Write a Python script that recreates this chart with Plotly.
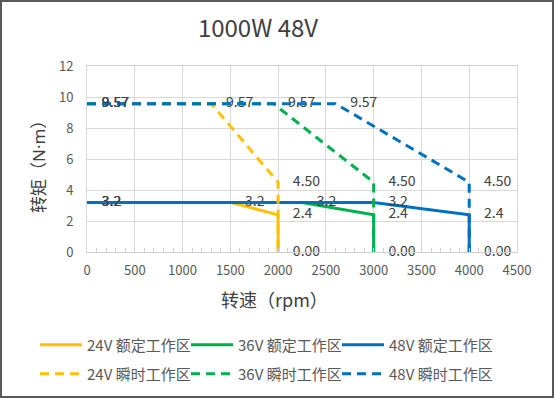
import plotly.graph_objects as go

# ---- data ----
rated_labels = ["24V 额定工作区", "36V 额定工作区", "48V 额定工作区"]
peak_labels = ["24V 瞬时工作区", "36V 瞬时工作区", "48V 瞬时工作区"]

rated_x_24 = [0, 1500, 2000, 2000]
rated_x_36 = [0, 2250, 3000, 3000]
rated_x_48 = [0, 3000, 4000, 4000]
rated_y = [3.2, 3.2, 2.4, 0]
rated_text = ["3.2", "3.2", "2.4", ""]

peak_x_24 = [0, 1300, 2000, 2000]
peak_x_36 = [0, 1950, 3000, 3000]
peak_x_48 = [0, 2600, 4000, 4000]
peak_y = [9.57, 9.57, 4.5, 0]
peak_text = ["9.57", "9.57", "4.50", "0.00"]

colors = ["#FFC000", "#00B050", "#0070C0"]

FONT = "Noto Sans CJK SC"
W, H = 554, 398
L, R, T, B = 87, 37, 66, 146
pw, ph = W - L - R, H - T - B

leg_cols_px = [35, 186, 337]
leg_rows_px = [345, 374]

fig = go.Figure()
legend_layouts = {}
k = 0
for row, (labels, xs_list, ys, texts, dash) in enumerate([
    (rated_labels, [rated_x_24, rated_x_36, rated_x_48], rated_y, rated_text, "solid"),
    (peak_labels, [peak_x_24, peak_x_36, peak_x_48], peak_y, peak_text, "9px,6px"),
]):
    for col, (name, xs, c) in enumerate(zip(labels, xs_list, colors)):
        k += 1
        lname = "legend" if k == 1 else f"legend{k}"
        fig.add_trace(go.Scatter(
            x=xs, y=ys, name=name, mode="lines+markers+text",
            text=texts, textposition="middle right",
            textfont=dict(family=FONT, size=14, color="#404040"),
            line=dict(color=c, width=3, dash=dash),
            marker=dict(size=22, color="rgba(0,0,0,0)"),
            cliponaxis=False, legend=lname,
        ))
        legend_layouts[lname] = dict(
            orientation="h", xanchor="left", yanchor="middle",
            x=(leg_cols_px[col] - L) / pw, y=(T + ph - leg_rows_px[row]) / ph,
            font=dict(family=FONT, size=15, color="#595959"),
            itemwidth=42, bgcolor="rgba(0,0,0,0)")

fig.update_layout(
    width=W, height=H,
    margin=dict(l=L, r=R, t=T, b=B, autoexpand=False),
    paper_bgcolor="white", plot_bgcolor="white",
    font=dict(family=FONT, color="#595959", size=13),
    title=dict(text="1000W 48V", x=258 / W, xanchor="center", y=1 - 29 / H, yanchor="middle",
               font=dict(family=FONT, size=24, color="#404040")),
    xaxis=dict(range=[0, 4500], dtick=500, showgrid=True, gridcolor="#d9d9d9",
               showline=True, linecolor="#d0d0d0", mirror=True,
               ticks="inside", ticklen=4, tickcolor="#d0d0d0",
               minor=dict(ticks="inside", ticklen=4, dtick=100, tickcolor="#d0d0d0", showgrid=False),
               tickfont=dict(size=13, color="#595959"), ticklabelstandoff=6,
               zeroline=False, fixedrange=True),
    yaxis=dict(range=[0, 12], dtick=2, showgrid=True, gridcolor="#d9d9d9",
               showline=True, linecolor="#d9d9d9", mirror=True,
               tickfont=dict(size=13, color="#595959"), ticklabelstandoff=10,
               zeroline=False, fixedrange=True),
    showlegend=True,
    annotations=[
        dict(text="转速（rpm）", x=(274 - L) / pw, y=(T + ph - 299) / ph, xref="paper", yref="paper",
             showarrow=False, xanchor="center", yanchor="middle",
             font=dict(family=FONT, size=18, color="#404040")),
        dict(text="转矩（N·m）", x=(38 - L) / pw, y=(T + ph - 163) / ph, xref="paper", yref="paper",
             showarrow=False, xanchor="center", yanchor="middle", textangle=-90,
             font=dict(family="Noto Sans, " + FONT, size=17, color="#404040")),
    ],
    shapes=[dict(type="rect", xref="paper", yref="paper",
                 x0=(1 - L) / pw, x1=(W - 1 - L) / pw,
                 y0=(T + ph - (H - 1)) / ph, y1=(T + ph - 1) / ph,
                 line=dict(color="#595959", width=2), layer="above")],
)
fig.update_layout(**legend_layouts)

fig.write_html("out.html", config={"displayModeBar": False},
               post_script="document.body.style.margin='0';document.body.style.overflow='hidden';")
